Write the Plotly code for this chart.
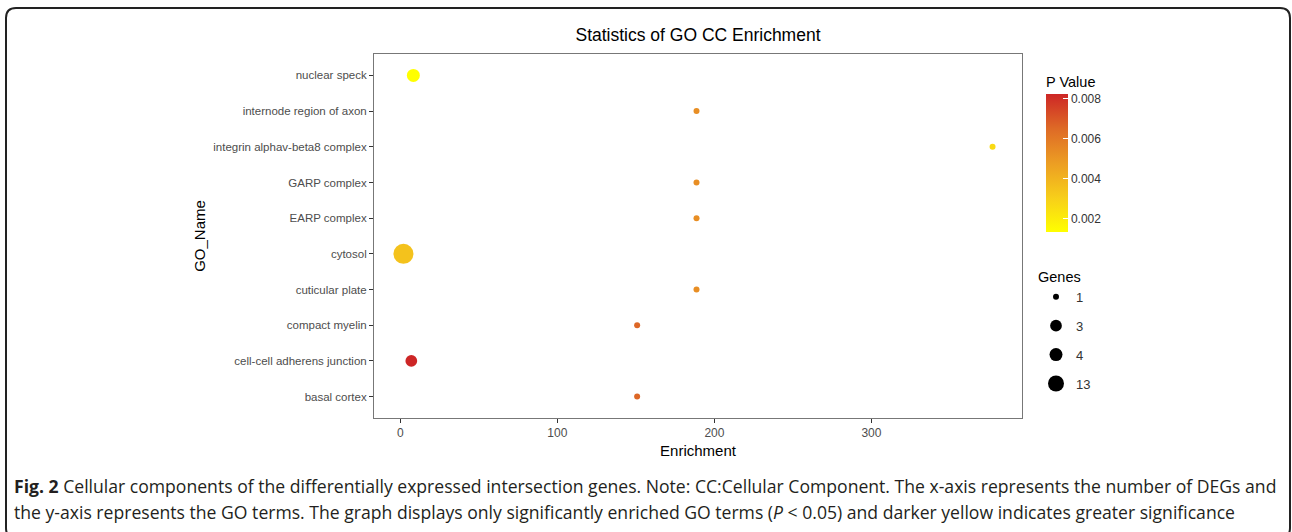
import plotly.graph_objects as go

# ---------------- data ----------------
terms = [
    "nuclear speck",
    "internode region of axon",
    "integrin alphav-beta8 complex",
    "GARP complex",
    "EARP complex",
    "cytosol",
    "cuticular plate",
    "compact myelin",
    "cell-cell adherens junction",
    "basal cortex",
]
enrichment = [8.3, 188.6, 377.1, 188.6, 188.6, 2.0, 188.6, 150.8, 7.0, 150.8]
genes = [4, 1, 1, 1, 1, 13, 1, 1, 3, 1]
pvalues = [0.00133, 0.0053, 0.00265, 0.0053, 0.0053, 0.0035, 0.0053, 0.0066, 0.00825, 0.0066]

cb_ticks = [0.002, 0.004, 0.006, 0.008]
gene_legend = [1, 3, 4, 13]

title_text = "Statistics of GO CC Enrichment"
caption1 = ("<b>Fig. 2</b> Cellular components of the differentially expressed intersection genes. "
            "Note: CC:Cellular Component. The x-axis represents the number of DEGs and")
caption2 = ("the y-axis represents the GO terms. The graph displays only significantly enriched GO terms "
            "(<i>P</i> &lt; 0.05) and darker yellow indicates greater significance")

# ---------------- layout geometry (pixels) ----------------
W, H = 1292, 532
PL, PR, PT, PB = 374, 1022, 54, 418


def px(xp):
    return (xp - PL) / (PR - PL)


def py(yp):
    return (PB - yp) / (PB - PT)


def msize(g):
    return 6 + 14 * ((g - 1) / 12) ** 0.5


colorscale = [
    [0.0, "#FFFF00"],
    [0.25, "#F7CE1A"],
    [0.5, "#EC9D23"],
    [0.75, "#DE6A26"],
    [1.0, "#CD2626"],
]

span = max(enrichment) - min(enrichment)
xrange = [min(enrichment) - 0.05 * span, max(enrichment) + 0.05 * span]

FONT = "Liberation Sans, Arial, sans-serif"

fig = go.Figure()
fig.add_trace(go.Scatter(
    x=enrichment, y=terms, mode="markers", showlegend=False,
    marker=dict(
        size=[msize(g) for g in genes],
        color=pvalues,
        colorscale=colorscale,
        cmin=min(pvalues), cmax=max(pvalues),
        line=dict(width=0),
        opacity=1,
        colorbar=dict(
            title=dict(text="P Value", side="top", font=dict(size=14.5, color="#000", family=FONT)),
            thickness=22, lenmode="pixels", len=159,
            x=px(1046), xanchor="left", xpad=0,
            y=py(73), yanchor="top", ypad=0,
            outlinewidth=0,
            tickvals=cb_ticks, ticktext=[f"{t:.3f}" for t in cb_ticks],
            ticks="inside", tickcolor="white", ticklen=5,
            tickfont=dict(size=12, color="#333", family=FONT),
        ),
    ),
    hovertemplate="%{y}<br>Enrichment: %{x}<extra></extra>",
))

for g in gene_legend:
    fig.add_trace(go.Scatter(
        x=[None], y=[None], mode="markers", name=str(g), legendgroup=str(g),
        marker=dict(size=msize(g), color="black", line=dict(width=0)),
    ))

# rounded border around the whole figure
bx0, bx1, by0, by1, r = 6, 1290, 8, 538, 10
path = (
    f"M {px(bx0 + r)},{py(by0)} L {px(bx1 - r)},{py(by0)} "
    f"Q {px(bx1)},{py(by0)} {px(bx1)},{py(by0 + r)} "
    f"L {px(bx1)},{py(by1 - r)} Q {px(bx1)},{py(by1)} {px(bx1 - r)},{py(by1)} "
    f"L {px(bx0 + r)},{py(by1)} Q {px(bx0)},{py(by1)} {px(bx0)},{py(by1 - r)} "
    f"L {px(bx0)},{py(by0 + r)} Q {px(bx0)},{py(by0)} {px(bx0 + r)},{py(by0)} Z"
)

fig.update_layout(
    width=W, height=H, autosize=False,
    margin=dict(l=PL, r=W - PR, t=PT, b=H - PB, pad=0),
    paper_bgcolor="white", plot_bgcolor="white",
    font=dict(family=FONT, color="#000"),
    title=dict(text=title_text, x=0.5, xref="paper", xanchor="center",
               y=1 - 35 / H, yref="container", yanchor="middle",
               font=dict(size=17.5, color="#000", family=FONT)),
    xaxis=dict(
        range=xrange, tickvals=[0, 100, 200, 300], showgrid=False, zeroline=False,
        showline=True, mirror=True, linecolor="#777", linewidth=1,
        ticks="outside", ticklen=4, tickcolor="#333",
        tickfont=dict(size=12, color="#4d4d4d", family=FONT),
        title=dict(text="Enrichment", font=dict(size=15, color="#000", family=FONT), standoff=6),
    ),
    yaxis=dict(
        categoryorder="array", categoryarray=terms[::-1], range=[-0.6, len(terms) - 0.4],
        showgrid=False, zeroline=False,
        showline=True, mirror=True, linecolor="#777", linewidth=1,
        ticks="outside", ticklen=4, tickcolor="#333",
        tickfont=dict(size=11.5, color="#4d4d4d", family=FONT),
        title=dict(text="GO_Name", font=dict(size=15, color="#000", family=FONT), standoff=4),
    ),
    legend=dict(
        title=dict(text="Genes", font=dict(size=14.5, color="#000", family=FONT)),
        x=px(1036), xanchor="left", y=py(263), yanchor="top",
        font=dict(size=13, color="#333", family=FONT),
        tracegroupgap=9, itemsizing="trace", itemwidth=30,
        bgcolor="rgba(0,0,0,0)",
    ),
    shapes=[dict(type="path", path=path, xref="paper", yref="paper",
                 line=dict(color="#222", width=2), fillcolor="rgba(0,0,0,0)", layer="above")],
    annotations=[
        dict(text=caption1, xref="paper", yref="paper", x=px(12), y=py(486),
             xanchor="left", yanchor="middle", showarrow=False, align="left",
             font=dict(family="Open Sans, sans-serif", size=17.6, color="#231f20")),
        dict(text=caption2, xref="paper", yref="paper", x=px(12), y=py(512),
             xanchor="left", yanchor="middle", showarrow=False, align="left",
             font=dict(family="Open Sans, sans-serif", size=17.6, color="#231f20")),
    ],
)

fig.write_html("out.html")
